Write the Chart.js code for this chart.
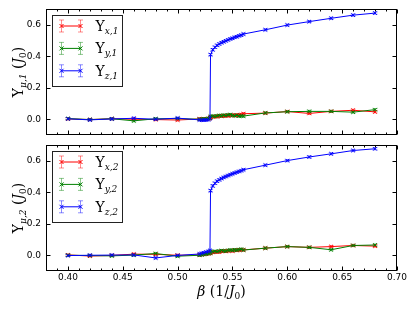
<!DOCTYPE html>
<html>
<head>
<meta charset="utf-8">
<script src="https://cdn.jsdelivr.net/npm/chart.js@4/dist/chart.umd.min.js"></script>
<style>
  html, body { margin: 0; padding: 0; background: #fff; }
  #wrap { position: relative; width: 415px; height: 312px; }
  canvas { position: absolute; left: 0; }
  #topPanel { top: 0; }
  #bottomPanel { top: 140px; }
</style>
</head>
<body>
<div id="wrap">
  <canvas id="topPanel" width="415" height="140"></canvas>
  <canvas id="bottomPanel" width="415" height="172"></canvas>
</div>
<script>
// inverse temperature beta (1/J0)
const betaValues = [0.40, 0.42, 0.44, 0.46, 0.48, 0.50, 0.520, 0.522, 0.524, 0.526, 0.528, 0.5295,
  0.530, 0.532, 0.534, 0.536, 0.538, 0.540, 0.542, 0.544, 0.546, 0.548, 0.550, 0.552, 0.554, 0.556, 0.558, 0.560,
  0.58, 0.60, 0.62, 0.64, 0.66, 0.68];

// top panel: helicity modulus, layer 1
const upsX1 = [0.002, -0.002, 0.003, 0.000, -0.002, -0.005, 0.002, 0.003, 0.000, 0.002, 0.004, 0.006,
  0.012, 0.015, 0.018, 0.016, 0.020, 0.022, 0.019, 0.024, 0.021, 0.025, 0.023, 0.027, 0.024, 0.028, 0.030, 0.035,
  0.039, 0.049, 0.037, 0.050, 0.057, 0.047];
const upsY1 = [0.004, -0.002, 0.003, -0.010, 0.003, 0.004, 0.000, 0.001, 0.002, 0.003, 0.005, 0.008,
  0.018, 0.020, 0.017, 0.022, 0.024, 0.021, 0.026, 0.023, 0.028, 0.030, 0.024, 0.022, 0.026, 0.020, 0.022, 0.020,
  0.040, 0.048, 0.050, 0.050, 0.045, 0.061];
const upsZ1 = [0.003, -0.004, 0.002, 0.006, 0.000, 0.007, -0.004, -0.006, -0.005, -0.004, -0.003, 0.005,
  0.410, 0.441, 0.457, 0.469, 0.478, 0.486, 0.492, 0.498, 0.504, 0.510, 0.514, 0.520, 0.524, 0.530, 0.534, 0.541,
  0.568, 0.598, 0.620, 0.641, 0.661, 0.674];

// bottom panel: layer 2
const upsX2 = [0.002, -0.005, -0.001, 0.007, 0.006, 0.000, 0.002, 0.004, 0.006, 0.008, 0.010, 0.012,
  0.015, 0.018, 0.020, 0.022, 0.020, 0.025, 0.027, 0.024, 0.028, 0.030, 0.027, 0.032, 0.030, 0.033, 0.035, 0.034,
  0.045, 0.055, 0.050, 0.055, 0.062, 0.058];
const upsY2 = [0.000, -0.002, -0.004, 0.001, 0.011, -0.006, 0.000, 0.003, 0.005, 0.008, 0.010, 0.012,
  0.020, 0.022, 0.025, 0.023, 0.027, 0.030, 0.028, 0.026, 0.031, 0.033, 0.030, 0.035, 0.032, 0.036, 0.038, 0.033,
  0.045, 0.055, 0.050, 0.035, 0.062, 0.065];
const upsZ2 = [-0.002, 0.000, 0.001, 0.002, -0.017, -0.001, 0.008, 0.012, 0.016, 0.020, 0.024, 0.030,
  0.410, 0.440, 0.457, 0.470, 0.479, 0.487, 0.494, 0.500, 0.506, 0.512, 0.517, 0.522, 0.527, 0.532, 0.537, 0.543,
  0.572, 0.601, 0.624, 0.644, 0.665, 0.676];

const errorSize = 0.007;
const yTickValues = [0.0, 0.2, 0.4, 0.6];
const xTickValues = [0.40, 0.45, 0.50, 0.55, 0.60, 0.65, 0.70];
const seriesColors = ['rgb(255,0,0)', 'rgb(0,128,0)', 'rgb(0,0,255)'];
const errorColors = ['rgba(255,0,0,0.45)', 'rgba(0,128,0,0.45)', 'rgba(0,0,255,0.45)'];
const seriesNames = ['x', 'y', 'z'];

const serif = '"DejaVu Serif", "Liberation Serif", serif';
const tickFont = '9px "DejaVu Sans"';

function drawCross(ctx, x, y, r) {
  ctx.beginPath();
  ctx.moveTo(x - r, y - r); ctx.lineTo(x + r, y + r);
  ctx.moveTo(x - r, y + r); ctx.lineTo(x + r, y - r);
  ctx.stroke();
}

function drawErrorBar(ctx, x, yTop, yBot, cap) {
  ctx.beginPath();
  ctx.moveTo(x, yTop); ctx.lineTo(x, yBot);
  ctx.moveTo(x - cap, yTop); ctx.lineTo(x + cap, yTop);
  ctx.moveTo(x - cap, yBot); ctx.lineTo(x + cap, yBot);
  ctx.stroke();
}

// draws a sequence of text pieces (normal / subscript) starting at x, baseline y
function drawPieces(ctx, pieces, x, y, align) {
  let total = 0;
  pieces.forEach(p => { ctx.font = p.font; total += ctx.measureText(p.t).width; });
  let cx = align === 'center' ? x - total / 2 : x;
  ctx.textAlign = 'left';
  ctx.textBaseline = 'alphabetic';
  pieces.forEach(p => {
    ctx.font = p.font;
    ctx.fillText(p.t, cx, y + (p.dy || 0));
    cx += ctx.measureText(p.t).width;
  });
}

const panelDecor = {
  id: 'panelDecor',
  beforeDatasetsDraw(chart) {
    const { ctx, scales: { x, y } } = chart;
    ctx.save();
    ctx.lineWidth = 1;
    chart.data.datasets.forEach((ds, k) => {
      ctx.strokeStyle = errorColors[k];
      ds.data.forEach(p => {
        const px = x.getPixelForValue(p.x);
        drawErrorBar(ctx, px, y.getPixelForValue(p.y + errorSize), y.getPixelForValue(p.y - errorSize), 2.5);
      });
    });
    ctx.restore();
  },
  afterDraw(chart) {
    const { ctx, chartArea: ca, scales: { x, y } } = chart;
    const opts = chart.options.plugins.panelDecor;
    const L = Math.round(ca.left) + 0.5, R = Math.round(ca.right) - 0.5;
    const T = Math.round(ca.top) + 0.5, B = Math.round(ca.bottom) - 0.5;
    ctx.save();
    ctx.strokeStyle = '#000';
    ctx.lineWidth = 1;
    ctx.strokeRect(L, T, R - L, B - T);

    // inward ticks on all four sides
    ctx.beginPath();
    yTickValues.forEach(v => {
      const py = Math.round(y.getPixelForValue(v)) + 0.5;
      ctx.moveTo(L, py); ctx.lineTo(L + 4, py);
      ctx.moveTo(R, py); ctx.lineTo(R - 4, py);
    });
    for (let i = 38; i <= 70; i++) {
      const px = Math.round(x.getPixelForValue(i / 100)) + 0.5;
      const len = i % 5 === 0 ? 4 : 2;
      ctx.moveTo(px, B); ctx.lineTo(px, B - len);
      ctx.moveTo(px, T); ctx.lineTo(px, T + len);
    }
    ctx.stroke();

    // tick labels
    ctx.fillStyle = '#000';
    ctx.font = tickFont;
    ctx.textAlign = 'right';
    ctx.textBaseline = 'middle';
    yTickValues.forEach(v => ctx.fillText(v.toFixed(1), ca.left - 5, y.getPixelForValue(v)));
    if (opts.xTitle) {
      ctx.textAlign = 'center';
      ctx.textBaseline = 'top';
      xTickValues.forEach(v => ctx.fillText(v.toFixed(2), x.getPixelForValue(v), ca.bottom + 2));
    }

    // legend box
    const lx = Math.round(ca.left) + 6.5, ly = Math.round(ca.top) + 6.5;
    ctx.fillStyle = '#fff';
    ctx.fillRect(lx, ly, 70, 71);
    ctx.strokeStyle = '#222';
    ctx.strokeRect(lx, ly, 70, 71);
    seriesNames.forEach((name, k) => {
      const ry = ly + 10.5 + 22.4 * k;
      const x1 = lx + 9, x2 = lx + 28;
      ctx.strokeStyle = errorColors[k];
      drawErrorBar(ctx, x1, ry - 6, ry + 6, 2.5);
      drawErrorBar(ctx, x2, ry - 6, ry + 6, 2.5);
      ctx.strokeStyle = seriesColors[k];
      ctx.beginPath(); ctx.moveTo(x1, ry); ctx.lineTo(x2, ry); ctx.stroke();
      drawCross(ctx, x1, ry, 2);
      drawCross(ctx, x2, ry, 2);
      ctx.fillStyle = '#000';
      drawPieces(ctx, [
        { t: 'Υ', font: '14px ' + serif },
        { t: name + ',' + opts.layer, font: 'italic 9px ' + serif, dy: 3 }
      ], lx + 43, ry + 5);
    });

    // rotated y title
    ctx.save();
    ctx.translate(23, (ca.top + ca.bottom) / 2);
    ctx.rotate(-Math.PI / 2);
    ctx.fillStyle = '#000';
    drawPieces(ctx, [
      { t: 'Υ', font: '14px ' + serif },
      { t: 'μ,' + opts.layer, font: 'italic 9px ' + serif, dy: 3 },
      { t: ' (', font: '14px ' + serif },
      { t: 'J', font: 'italic 14px ' + serif },
      { t: '0', font: '9px ' + serif, dy: 3 },
      { t: ')', font: '14px ' + serif }
    ], 0, 0, 'center');
    ctx.restore();

    if (opts.xTitle) {
      ctx.fillStyle = '#000';
      drawPieces(ctx, [
        { t: 'β', font: 'italic 14px ' + serif },
        { t: ' (1/', font: '14px ' + serif },
        { t: 'J', font: 'italic 14px ' + serif },
        { t: '0', font: '9px ' + serif, dy: 3 },
        { t: ')', font: '14px ' + serif }
      ], (ca.left + ca.right) / 2, 156, 'center');
    }
    ctx.restore();
  }
};

function makePanel(canvasId, series, layer, isBottom) {
  const datasets = series.map((ys, k) => ({
    label: 'Υ' + seriesNames[k] + ',' + layer,
    data: betaValues.map((b, i) => ({ x: b, y: ys[i] })),
    borderColor: seriesColors[k],
    backgroundColor: seriesColors[k],
    borderWidth: 1,
    showLine: true,
    tension: 0,
    pointStyle: 'crossRot',
    pointRadius: 2.5,
    pointBorderWidth: 1,
    order: 2 - k
  }));

  return new Chart(document.getElementById(canvasId), {
    type: 'scatter',
    data: { datasets },
    options: {
      responsive: false,
      animation: false,
      events: [],
      // axes are hidden, so the plot area is set by padding alone
      layout: { padding: { left: 46, right: 18, top: isBottom ? 0 : 9, bottom: isBottom ? 41 : 0 } },
      plugins: {
        legend: { display: false },
        tooltip: { enabled: false },
        panelDecor: { layer, xTitle: isBottom }
      },
      scales: {
        x: { type: 'linear', min: 0.38, max: 0.70, display: false },
        y: { type: 'linear', min: -0.1, max: 0.7, display: false }
      }
    },
    plugins: [panelDecor]
  });
}

makePanel('topPanel', [upsX1, upsY1, upsZ1], 1, false);
makePanel('bottomPanel', [upsX2, upsY2, upsZ2], 2, true);
</script>
</body>
</html>
